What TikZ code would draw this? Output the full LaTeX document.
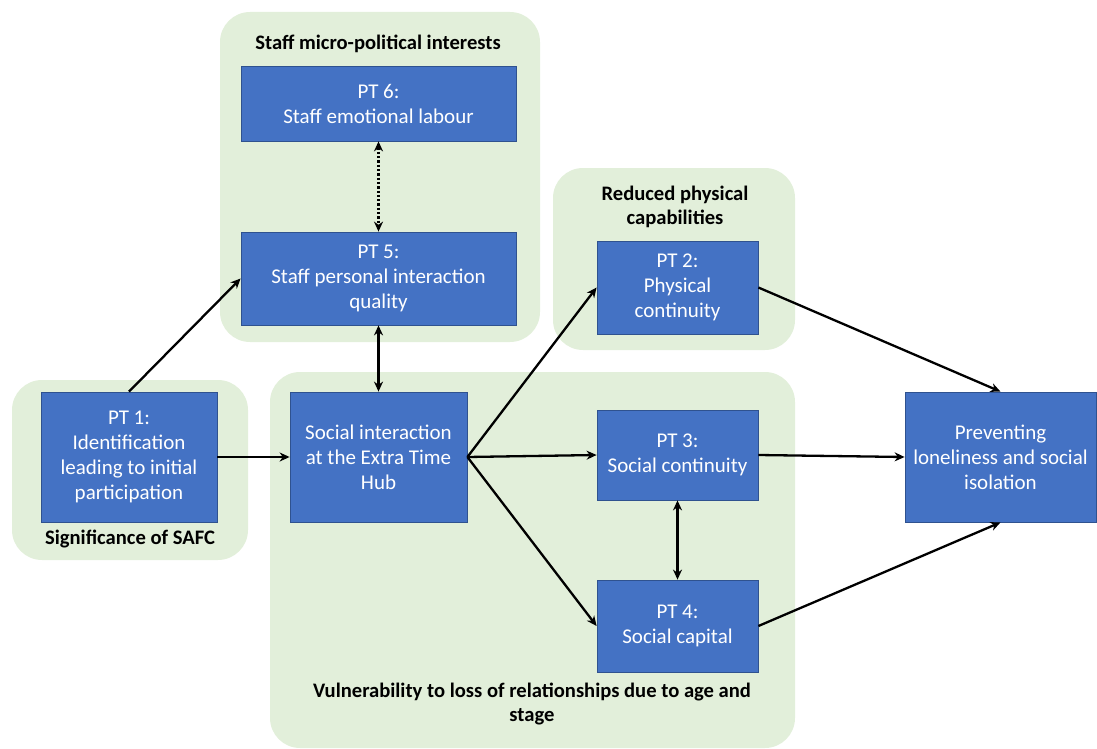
\documentclass[tikz,border=0pt]{standalone}
\usepackage{fontspec}
\setmainfont{Carlito}
\usetikzlibrary{arrows.meta}

\definecolor{boxblue}{RGB}{68,114,196}
\definecolor{boxedge}{RGB}{47,82,143}
\definecolor{zonegreen}{RGB}{226,239,218}

\tikzset{
  ptbox/.style={draw=boxedge, line width=0.8pt, fill=boxblue, text=white, align=center,
    font=\fontsize{21}{25}\selectfont, inner sep=0pt},
  zone/.style={fill=zonegreen, rounded corners=30pt},
  zonelabel/.style={align=center, font=\bfseries\fontsize{20.6}{24}\selectfont},
  link/.style={line width=2.3pt, -{Stealth[length=10pt,width=9pt]}},
  twoway/.style={line width=2.3pt, {Stealth[length=10pt,width=9pt]}-{Stealth[length=10pt,width=9pt]}}
}

\begin{document}
\begin{tikzpicture}[x=1pt,y=-1pt]

\useasboundingbox (0,0) rectangle (1097,749);

% zones
\fill[zone] (220,12) rectangle (540,342);
\fill[zone] (553,168) rectangle (795,350);
\fill[zone] (12,380) rectangle (248,560);
\fill[zone] (270,372) rectangle (795,748);

\node[zonelabel] (lstaff) at (378,44) {Staff micro-political interests};
\node[zonelabel] (lphys) at (675,207) {Reduced physical\\capabilities};
\node[zonelabel] (lsafc) at (130,539) {Significance of SAFC};
\node[zonelabel] (lvuln) at (532,704) {Vulnerability to loss of relationships due to age and\\stage};

% boxes
\node[ptbox, minimum width=275pt, minimum height=75pt] (pt6) at (378.5,103.5) {PT 6:\\Staff emotional labour};
\node[ptbox, minimum width=275pt, minimum height=93pt] (pt5) at (378.5,278.5) {PT 5:\\Staff personal interaction\\quality};
\node[ptbox, minimum width=176pt, minimum height=130pt] (pt1) at (129,457) {PT 1:\\Identification\\leading to initial\\participation};
\node[ptbox, minimum width=177pt, minimum height=130pt] (hub) at (378.5,457) {Social interaction\\at the Extra Time\\Hub};
\node[ptbox, minimum width=161pt, minimum height=93pt] (pt2) at (677.5,287.5) {PT 2:\\Physical\\continuity};
\node[ptbox, minimum width=161pt, minimum height=90pt] (pt3) at (677.5,455) {PT 3:\\Social continuity};
\node[ptbox, minimum width=161pt, minimum height=92pt] (pt4) at (677.5,626) {PT 4:\\Social capital};
\node[ptbox, minimum width=191pt, minimum height=130pt] (prev) at (1000.5,457) {Preventing\\loneliness and social\\isolation};

% links
\draw[link] (pt1.north) -- (pt5.west);
\draw[link] (pt1.east) -- (hub.west);
\draw[twoway] (pt5.south) -- (hub.north);
\draw[twoway, dotted] (pt6.south) -- (pt5.north);
\draw[link] (hub.east) -- (pt2.west);
\draw[link] (hub.east) -- (pt3.west);
\draw[link] (hub.east) -- (pt4.west);
\draw[twoway] (pt3.south) -- (pt4.north);
\draw[link] (pt2.east) -- (prev.north);
\draw[link] (pt3.east) -- (prev.west);
\draw[link] (pt4.east) -- (prev.south);

\end{tikzpicture}
\end{document}
